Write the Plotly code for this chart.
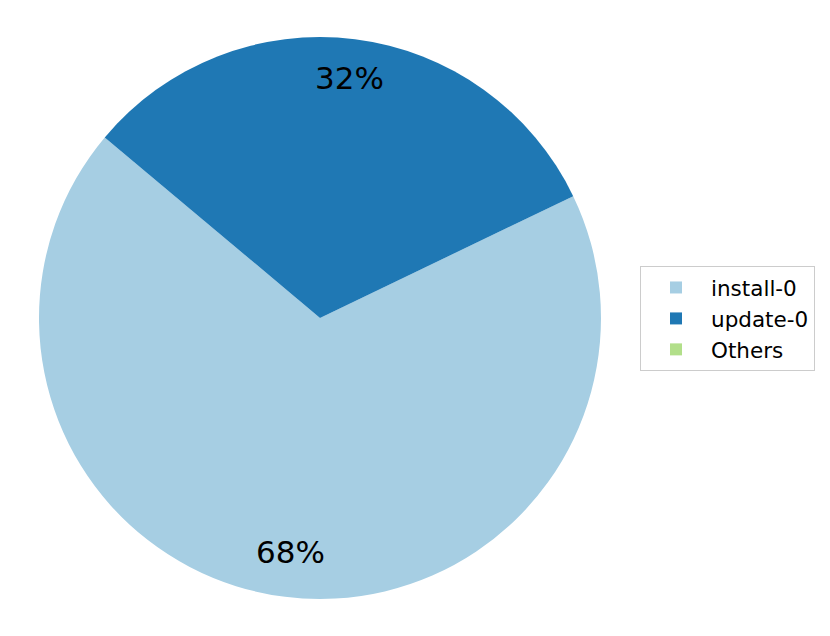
import math
import plotly.graph_objects as go

labels = ["install-0", "update-0", "Others"]
values = [68.25, 31.75, 0.0]
colors = ["#a6cee3", "#1f78b4", "#b2df8a"]
pct_text = ["68%", "32%", ""]

W, H = 830, 636
OFF = 8  # page body margin
cx, cy, r = 320 - OFF, 318 - OFF, 281
start_deg = 140.0  # matplotlib-style start angle (counterclockwise from 3 o'clock)

total = sum(values)
first_end = start_deg + 360 * values[0] / total

fig = go.Figure()
fig.add_trace(go.Pie(
    labels=labels,
    values=values,
    marker=dict(colors=colors, line=dict(width=0)),
    sort=False,
    direction="counterclockwise",
    rotation=(90 - first_end) % 360,
    textinfo="none",
    hoverinfo="label+percent",
    domain=dict(x=[(cx - r) / W, (cx + r) / W], y=[(H - cy - r) / H, (H - cy + r) / H]),
))

# percentage labels at 0.85 of the radius, centred on each wedge
ang = start_deg
for v, t in zip(values, pct_text):
    span = 360 * v / total
    mid = math.radians(ang + span / 2)
    ang += span
    if not t:
        continue
    fig.add_annotation(
        x=(cx + 0.85 * r * math.cos(mid)) / W,
        y=(H - cy + 0.85 * r * math.sin(mid)) / H,
        xref="paper", yref="paper", text=t, showarrow=False,
        xanchor="center", yanchor="middle", yshift=3,
        font=dict(size=31, color="black", family="DejaVu Sans"),
    )

fig.update_layout(
    width=W, height=H,
    margin=dict(l=0, r=0, t=0, b=0),
    paper_bgcolor="white",
    plot_bgcolor="white",
    font=dict(family="DejaVu Sans", color="black"),
    showlegend=True,
    legend=dict(
        x=(640 - OFF) / W, y=1 - (266 - OFF) / H, xanchor="left", yanchor="top",
        bordercolor="#cccccc", borderwidth=1,
        font=dict(size=21.5, family="DejaVu Sans"),
        bgcolor="white",
        itemwidth=60,
    ),
)

fig.write_html("out.html")
